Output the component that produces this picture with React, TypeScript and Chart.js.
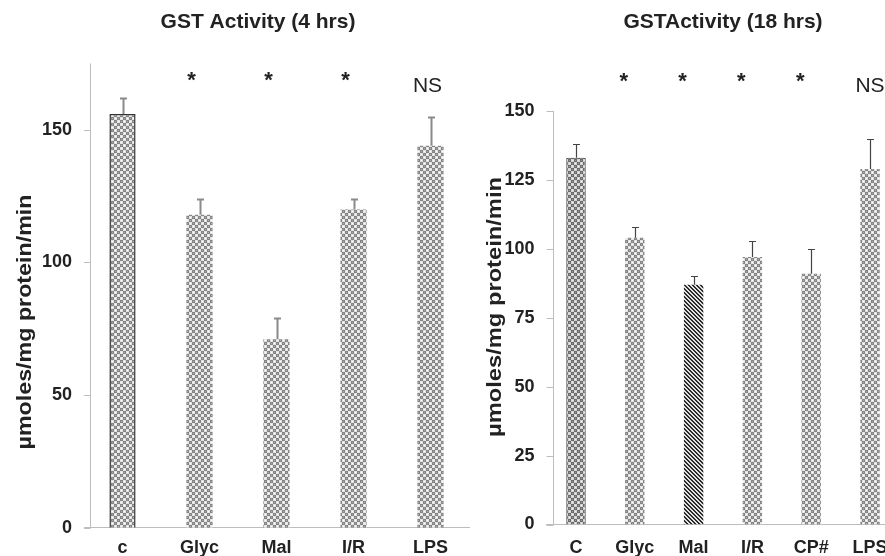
import React, { useEffect, useRef } from "react";
import { Chart, registerables } from "chart.js";

Chart.register(...registerables);

// ---------- data ----------
const leftTitle = "GST Activity (4 hrs)";
const leftCategories = ["c", "Glyc", "Mal", "I/R", "LPS"];
const leftValues = [156, 118, 71, 120, 144];
const leftErrors = [6, 6, 8, 4, 11];
const leftMarks = ["", "*", "*", "*", "NS"];
const leftTicks = [0, 50, 100, 150];
const leftMax = 175;

const rightTitle = "GSTActivity (18 hrs)";
const rightCategories = ["C", "Glyc", "Mal", "I/R", "CP#", "LPS"];
const rightValues = [133, 104, 87, 97, 91, 129];
const rightErrors = [5, 4, 3, 6, 9, 11];
const rightMarks = ["", "*", "*", "*", "*", "NS"];
const rightTicks = [0, 25, 50, 75, 100, 125, 150];
const rightMax = 150;

const yTitle = "µmoles/mg protein/min";

const FONT = "'Liberation Sans', Arial, Helvetica, sans-serif";
const TEXT = "#222222";
const AXIS = "#bdbdbd";

// ---------- patterns ----------
function makePattern(size: number, fn: (x: number, y: number) => string) {
  const c = document.createElement("canvas");
  c.width = size;
  c.height = size;
  const g = c.getContext("2d")!;
  for (let y = 0; y < size; y++) {
    for (let x = 0; x < size; x++) {
      g.fillStyle = fn(x, y);
      g.fillRect(x, y, 1, 1);
    }
  }
  return g.createPattern(c, "repeat")!;
}

function checker(dark: string, darkMid: string, light: string, lightMid: string) {
  return makePattern(6, (x, y) => {
    const bx = Math.floor(x / 3);
    const by = Math.floor(y / 3);
    const center = x % 3 === 1 && y % 3 === 1;
    if ((bx + by) % 2 === 0) return center ? darkMid : dark;
    return center ? lightMid : light;
  });
}

function diagonal() {
  return makePattern(4, (x, y) => ((((x - y) % 4) + 4) % 4 < 2 ? "#2a2a2a" : "#e2e2e2"));
}

type PanelSpec = {
  title: string;
  categories: string[];
  values: number[];
  errors: number[];
  marks: string[];
  ticks: number[];
  max: number;
  canvasLeft: number;
  canvasWidth: number;
  area: { left: number; right: number; top: number; bottom: number };
  xPad: number;
  titleX: number;
  yTitleX: number;
  yTitleY: number;
  yTitleLen: number;
  starDx: number;
  starBase: number;
  nsDx: number;
  nsBase: number;
  errColor: string;
  errWidth: number;
  barPct: number;
  fills: (pats: any) => any[];
  borders: number[];
};

const H = 556;

function Panel({ spec }: { spec: PanelSpec }) {
  const ref = useRef<HTMLCanvasElement | null>(null);
  useEffect(() => {
    const canvas = ref.current!;
    const pats = {
      light: checker("#858585", "#ababab", "#e4e4e4", "#ffffff"),
      dark: checker("#6c6c6c", "#999999", "#d4d4d4", "#f2f2f2"),
      diag: diagonal(),
    };
    const s = spec;
    const overlay = {
      id: "overlay",
      afterDatasetsDraw(chart: any) {
        const ctx = chart.ctx;
        const xs = chart.scales.x;
        const ys = chart.scales.y;
        ctx.save();
        ctx.strokeStyle = s.errColor;
        ctx.lineWidth = s.errWidth;
        s.values.forEach((v, i) => {
          const px = Math.round(xs.getPixelForValue(i)) + 0.5;
          const y0 = ys.getPixelForValue(v);
          const y1 = Math.round(ys.getPixelForValue(v + s.errors[i])) + 0.5;
          ctx.beginPath();
          ctx.moveTo(px, y0);
          ctx.lineTo(px, y1);
          ctx.moveTo(px - 3.5, y1);
          ctx.lineTo(px + 3.5, y1);
          ctx.stroke();
        });
        ctx.restore();
      },
      afterDraw(chart: any) {
        const ctx = chart.ctx;
        const xs = chart.scales.x;
        const ys = chart.scales.y;
        const a = chart.chartArea;
        ctx.save();
        // y axis line + outward ticks
        ctx.strokeStyle = AXIS;
        ctx.lineWidth = 1;
        const ax = Math.round(a.left + 6) + 0.5;
        ctx.beginPath();
        ctx.moveTo(ax, a.top);
        ctx.lineTo(ax, a.bottom);
        s.ticks.forEach((t) => {
          const py = Math.round(ys.getPixelForValue(t)) + 0.5;
          ctx.moveTo(a.left, py);
          ctx.lineTo(ax, py);
        });
        ctx.stroke();

        // significance marks
        ctx.fillStyle = TEXT;
        ctx.textAlign = "center";
        ctx.textBaseline = "alphabetic";
        s.marks.forEach((m, i) => {
          if (!m) return;
          const px = xs.getPixelForValue(i);
          if (m === "NS") {
            ctx.font = `21px ${FONT}`;
            ctx.fillText(m, px + s.nsDx, s.nsBase);
          } else {
            ctx.font = `bold 22px ${FONT}`;
            ctx.fillText(m, px + s.starDx, s.starBase);
          }
        });

        // title
        ctx.font = `bold 21px ${FONT}`;
        ctx.fillText(s.title, s.titleX, 28);

        // y title (rotated)
        ctx.font = `bold 20px ${FONT}`;
        const w = ctx.measureText(yTitle).width;
        ctx.translate(s.yTitleX, s.yTitleY);
        ctx.rotate(-Math.PI / 2);
        ctx.scale(s.yTitleLen / w, 1);
        ctx.textBaseline = "middle";
        ctx.fillText(yTitle, 0, 0);
        ctx.restore();
      },
    };

    const chart = new Chart(canvas, {
      type: "bar",
      data: {
        labels: s.categories,
        datasets: [
          {
            data: s.values,
            backgroundColor: s.fills(pats),
            borderColor: "#333333",
            borderWidth: s.borders,
            borderSkipped: "start",
            barPercentage: s.barPct,
            categoryPercentage: 1,
          },
        ],
      },
      options: {
        responsive: false,
        animation: false,
        events: [],
        layout: {
          padding: {
            left: 0,
            right: s.canvasWidth - s.area.right,
            top: s.area.top,
            bottom: 0,
          },
        },
        plugins: {
          legend: { display: false },
          tooltip: { enabled: false },
          title: { display: false },
        },
        scales: {
          x: {
            type: "category",
            grid: { display: false, drawTicks: false },
            border: { display: true, color: AXIS, width: 1 },
            ticks: {
              padding: s.xPad,
              color: TEXT,
              font: { family: FONT, size: 18, weight: "bold" },
              maxRotation: 0,
              autoSkip: false,
            },
            afterFit: (sc: any) => {
              sc.height = H - s.area.bottom;
            },
          },
          y: {
            type: "linear",
            min: 0,
            max: s.max,
            grid: { display: false, drawTicks: false },
            border: { display: false },
            ticks: {
              padding: 12,
              color: TEXT,
              font: { family: FONT, size: 18, weight: "bold" },
            },
            afterBuildTicks: (sc: any) => {
              sc.ticks = s.ticks.map((v) => ({ value: v }));
            },
            afterFit: (sc: any) => {
              sc.width = s.area.left;
            },
          },
        },
      },
      plugins: [overlay],
    } as any);
    return () => chart.destroy();
  }, [spec]);
  return (
    <canvas
      ref={ref}
      width={spec.canvasWidth}
      height={H}
      style={{ position: "absolute", left: spec.canvasLeft, top: 0, display: "block" }}
    />
  );
}

const leftSpec: PanelSpec = {
  title: leftTitle,
  categories: leftCategories,
  values: leftValues,
  errors: leftErrors,
  marks: leftMarks,
  ticks: leftTicks,
  max: leftMax,
  canvasLeft: 0,
  canvasWidth: 475,
  area: { left: 84, right: 469, top: 63.5, bottom: 527.7 },
  xPad: 10,
  titleX: 258,
  yTitleX: 25,
  yTitleY: 322,
  yTitleLen: 255,
  starDx: -8,
  starBase: 87,
  nsDx: -3,
  nsBase: 92,
  errColor: "#8a8a8a",
  errWidth: 2,
  barPct: 0.34,
  fills: (p) => [p.light, p.light, p.light, p.light, p.light],
  borders: [1.5, 0, 0, 0, 0],
};

const rightSpec: PanelSpec = {
  title: rightTitle,
  categories: rightCategories,
  values: rightValues,
  errors: rightErrors,
  marks: rightMarks,
  ticks: rightTicks,
  max: rightMax,
  canvasLeft: 475,
  canvasWidth: 430,
  area: { left: 71.6, right: 424.4, top: 111, bottom: 524.5 },
  xPad: 13,
  titleX: 248,
  yTitleX: 20,
  yTitleY: 307,
  yTitleLen: 260,
  starDx: -11,
  starBase: 88,
  nsDx: 0,
  nsBase: 92,
  errColor: "#444444",
  errWidth: 1.2,
  barPct: 0.33,
  fills: (p) => [p.dark, p.light, p.diag, p.light, p.light, p.light],
  borders: [1, 0, 0, 0, 0, 0],
};

export default function App() {
  return (
    <div
      style={{
        position: "fixed",
        left: 0,
        top: 0,
        width: 885,
        height: H,
        overflow: "hidden",
        background: "#ffffff",
      }}
    >
      <Panel spec={leftSpec} />
      <Panel spec={rightSpec} />
    </div>
  );
}
